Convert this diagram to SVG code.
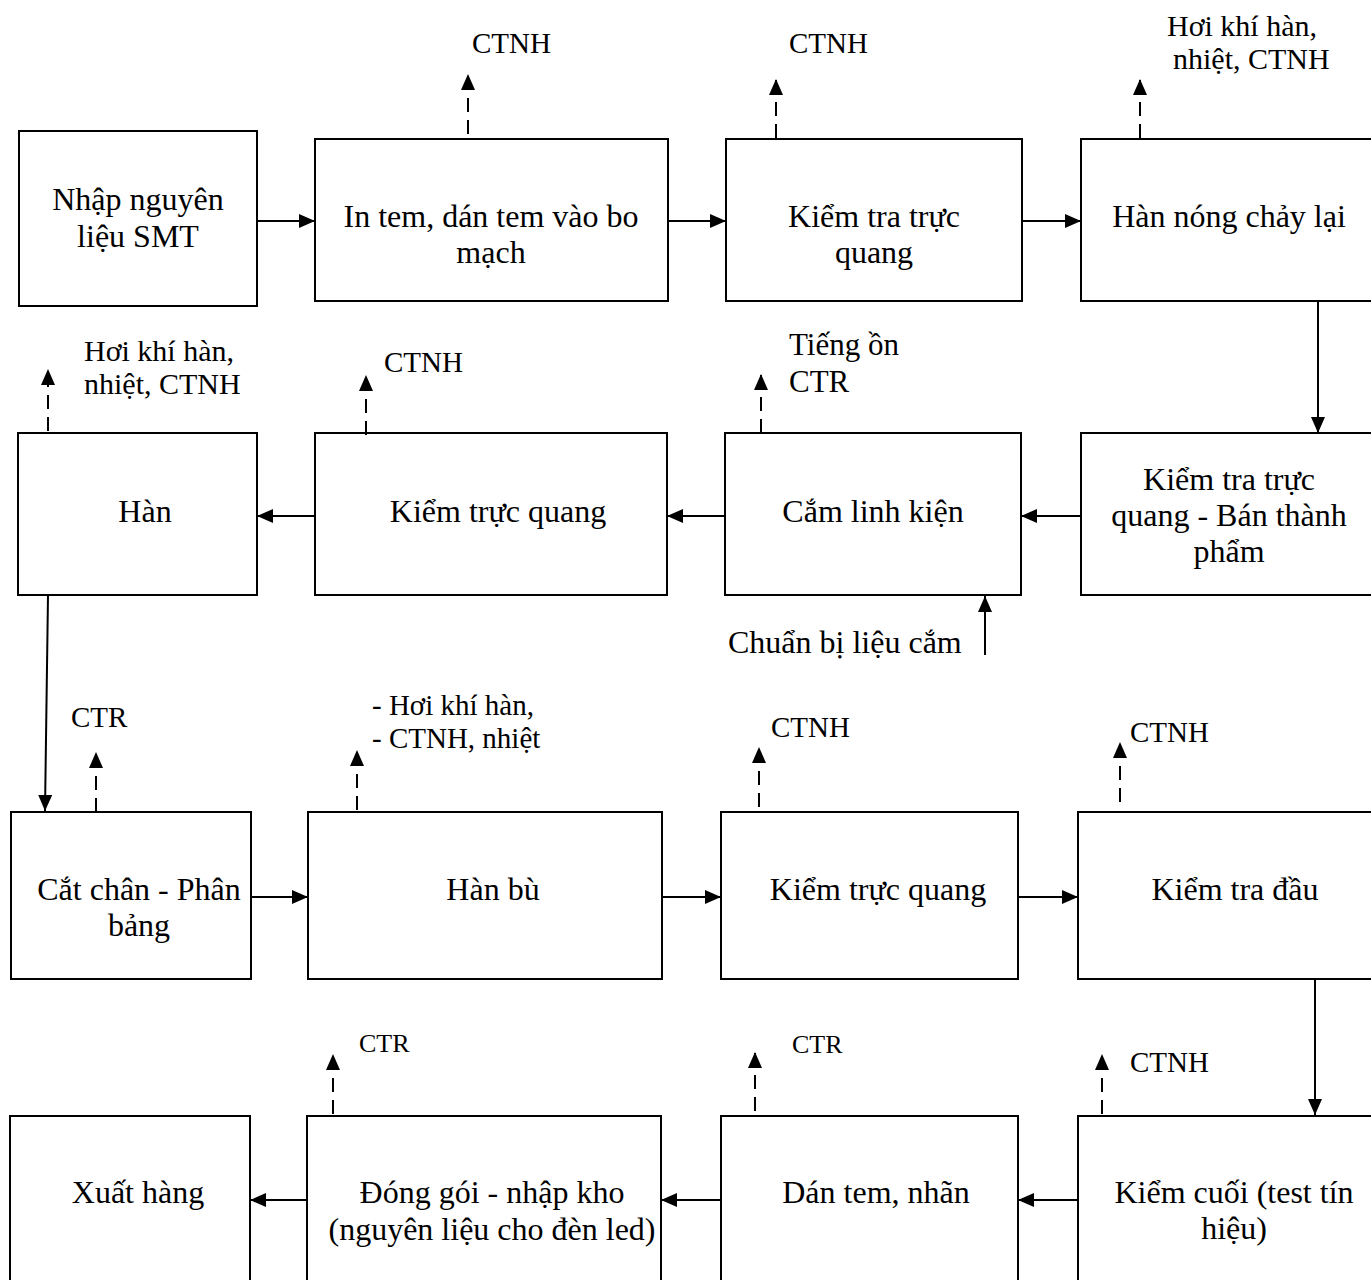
<svg xmlns="http://www.w3.org/2000/svg" width="1371" height="1280" viewBox="0 0 1371 1280">
  <style>
    .box { fill: #ffffff; stroke: #000000; stroke-width: 2; }
    .lbl { font-family: "Liberation Serif", "Times New Roman", serif; font-size: 32px; fill: #000000; text-anchor: middle; }
    .em { font-family: "Liberation Serif", "Times New Roman", serif; fill: #000000; }
    .flow { fill: none; stroke: #000000; stroke-width: 2; marker-end: url(#arrow); }
    .waste { fill: none; stroke: #000000; stroke-width: 2; stroke-dasharray: 14 8; marker-end: url(#arrow); }
  </style>
  <defs>
    <marker id="arrow" markerUnits="userSpaceOnUse" markerWidth="16" markerHeight="14" refX="16" refY="7" orient="auto">
      <path d="M0,0 L16,7 L0,14 z" fill="#000000"/>
    </marker>
  </defs>
  <rect x="0" y="0" width="1371" height="1280" fill="#ffffff"/>

  <!-- Row 1 -->
  <g id="node-nhap-nguyen-lieu">
    <rect class="box" x="19" y="131" width="238" height="175"/>
    <text class="lbl" x="138" y="210">Nhập nguyên</text>
    <text class="lbl" x="138" y="247">liệu SMT</text>
  </g>
  <g id="node-in-tem">
    <rect class="box" x="315" y="139" width="353" height="162"/>
    <text class="lbl" x="491" y="227">In tem, dán tem vào bo</text>
    <text class="lbl" x="491" y="263">mạch</text>
  </g>
  <g id="node-kiem-tra-truc-quang-1">
    <rect class="box" x="726" y="139" width="296" height="162"/>
    <text class="lbl" x="874" y="227">Kiểm tra trực</text>
    <text class="lbl" x="874" y="263">quang</text>
  </g>
  <g id="node-han-nong-chay">
    <rect class="box" x="1081" y="139" width="300" height="162"/>
    <text class="lbl" x="1229" y="227">Hàn nóng chảy lại</text>
  </g>

  <!-- Row 2 -->
  <g id="node-han">
    <rect class="box" x="18" y="433" width="239" height="162"/>
    <text class="lbl" x="145" y="522">Hàn</text>
  </g>
  <g id="node-kiem-truc-quang-1">
    <rect class="box" x="315" y="433" width="352" height="162"/>
    <text class="lbl" x="498" y="522">Kiểm trực quang</text>
  </g>
  <g id="node-cam-linh-kien">
    <rect class="box" x="725" y="433" width="296" height="162"/>
    <text class="lbl" x="873" y="522">Cắm linh kiện</text>
  </g>
  <g id="node-kiem-tra-ban-thanh-pham">
    <rect class="box" x="1081" y="433" width="300" height="162"/>
    <text class="lbl" x="1229" y="490">Kiểm tra trực</text>
    <text class="lbl" x="1229" y="526">quang - Bán thành</text>
    <text class="lbl" x="1229" y="562">phẩm</text>
  </g>

  <!-- Row 3 -->
  <g id="node-cat-chan">
    <rect class="box" x="11" y="812" width="240" height="167"/>
    <text class="lbl" x="139" y="900">Cắt chân - Phân</text>
    <text class="lbl" x="139" y="936">bảng</text>
  </g>
  <g id="node-han-bu">
    <rect class="box" x="308" y="812" width="354" height="167"/>
    <text class="lbl" x="493" y="900">Hàn bù</text>
  </g>
  <g id="node-kiem-truc-quang-2">
    <rect class="box" x="721" y="812" width="297" height="167"/>
    <text class="lbl" x="878" y="900">Kiểm trực quang</text>
  </g>
  <g id="node-kiem-tra-dau">
    <rect class="box" x="1078" y="812" width="303" height="167"/>
    <text class="lbl" x="1235" y="900">Kiểm tra đầu</text>
  </g>

  <!-- Row 4 -->
  <g id="node-xuat-hang">
    <rect class="box" x="10" y="1116" width="240" height="180"/>
    <text class="lbl" x="138" y="1203">Xuất hàng</text>
  </g>
  <g id="node-dong-goi">
    <rect class="box" x="307" y="1116" width="354" height="180"/>
    <text class="lbl" x="492" y="1203">Đóng gói - nhập kho</text>
    <text class="lbl" x="492" y="1240">(nguyên liệu cho đèn led)</text>
  </g>
  <g id="node-dan-tem">
    <rect class="box" x="721" y="1116" width="297" height="180"/>
    <text class="lbl" x="876" y="1203">Dán tem, nhãn</text>
  </g>
  <g id="node-kiem-cuoi">
    <rect class="box" x="1078" y="1116" width="303" height="180"/>
    <text class="lbl" x="1234" y="1203">Kiểm cuối (test tín</text>
    <text class="lbl" x="1234" y="1239">hiệu)</text>
  </g>

  <!-- Process flow -->
  <g id="connectors">
    <line class="flow" x1="257" y1="221" x2="315" y2="221"/>
    <line class="flow" x1="668" y1="221" x2="726" y2="221"/>
    <line class="flow" x1="1022" y1="221" x2="1081" y2="221"/>
    <line class="flow" x1="1318" y1="301" x2="1318" y2="433"/>
    <line class="flow" x1="1081" y1="516" x2="1021" y2="516"/>
    <line class="flow" x1="725" y1="516" x2="667" y2="516"/>
    <line class="flow" x1="315" y1="516" x2="257" y2="516"/>
    <line class="flow" x1="48" y1="595" x2="45" y2="811"/>
    <line class="flow" x1="251" y1="897" x2="308" y2="897"/>
    <line class="flow" x1="662" y1="897" x2="721" y2="897"/>
    <line class="flow" x1="1018" y1="897" x2="1078" y2="897"/>
    <line class="flow" x1="1315" y1="979" x2="1315" y2="1115"/>
    <line class="flow" x1="1078" y1="1200" x2="1018" y2="1200"/>
    <line class="flow" x1="721" y1="1200" x2="661" y2="1200"/>
    <line class="flow" x1="307" y1="1200" x2="250" y2="1200"/>
    <!-- material input -->
    <line class="flow" x1="985" y1="655" x2="985" y2="596"/>

    <!-- waste outputs -->
    <line class="waste" x1="468" y1="134" x2="468" y2="74"/>
    <line class="waste" x1="776" y1="138" x2="776" y2="79"/>
    <line class="waste" x1="1140" y1="138" x2="1140" y2="79"/>
    <line class="waste" x1="48" y1="431" x2="48" y2="369"/>
    <line class="waste" x1="366" y1="435" x2="366" y2="375"/>
    <line class="waste" x1="761" y1="433" x2="761" y2="374"/>
    <line class="waste" x1="96" y1="812" x2="96" y2="752"/>
    <line class="waste" x1="357" y1="810" x2="357" y2="750"/>
    <line class="waste" x1="759" y1="807" x2="759" y2="747"/>
    <line class="waste" x1="1120" y1="802" x2="1120" y2="742"/>
    <line class="waste" x1="333" y1="1114" x2="333" y2="1054"/>
    <line class="waste" x1="755" y1="1111" x2="755" y2="1052"/>
    <line class="waste" x1="1102" y1="1114" x2="1102" y2="1054"/>
  </g>

  <!-- Waste and input labels -->
  <g id="labels">
    <text class="em" font-size="29" x="472" y="53">CTNH</text>
    <text class="em" font-size="29" x="789" y="53">CTNH</text>
    <text class="em" font-size="30" x="1167" y="36">Hơi khí hàn,</text>
    <text class="em" font-size="30" x="1173" y="69">nhiệt, CTNH</text>

    <text class="em" font-size="30" x="84" y="361">Hơi khí hàn,</text>
    <text class="em" font-size="30" x="84" y="394">nhiệt, CTNH</text>
    <text class="em" font-size="29" x="384" y="372">CTNH</text>
    <text class="em" font-size="31" x="789" y="355">Tiếng ồn</text>
    <text class="em" font-size="31" x="789" y="392">CTR</text>
    <text class="em" font-size="32" x="728" y="653">Chuẩn bị liệu cắm</text>

    <text class="em" font-size="29" x="71" y="727">CTR</text>
    <text class="em" font-size="29" x="372" y="715">- Hơi khí hàn,</text>
    <text class="em" font-size="29" x="372" y="748">- CTNH, nhiệt</text>
    <text class="em" font-size="29" x="771" y="737">CTNH</text>
    <text class="em" font-size="29" x="1130" y="742">CTNH</text>

    <text class="em" font-size="26" x="359" y="1052">CTR</text>
    <text class="em" font-size="26" x="792" y="1053">CTR</text>
    <text class="em" font-size="29" x="1130" y="1072">CTNH</text>
  </g>
</svg>
